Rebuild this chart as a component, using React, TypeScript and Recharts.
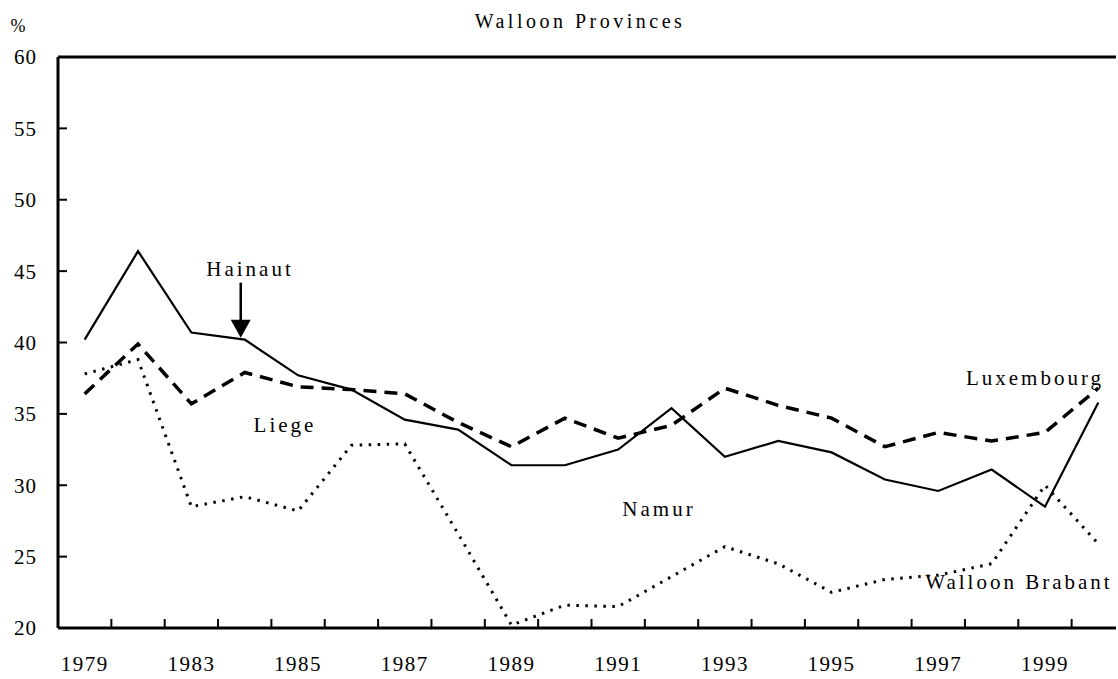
import { LineChart, Line, XAxis, YAxis, ReferenceLine, ReferenceDot } from "recharts";

const years = [
  "1979", "1982", "1983", "1984", "1985", "1986", "1987", "1988", "1989", "1990",
  "1991", "1992", "1993", "1994", "1995", "1996", "1997", "1998", "1999", "2000",
];
const tickYears = ["1979", "1983", "1985", "1987", "1989", "1991", "1993", "1995", "1997", "1999"];
const yTicks = [20, 25, 30, 35, 40, 45, 50, 55, 60];

const hainaut = [40.2, 46.4, 40.7, 40.2, 37.7, 36.7, 34.6, 33.9, 31.4, 31.4, 32.5, 35.4, 32.0, 33.1, 32.3, 30.4, 29.6, 31.1, 28.5, 35.8];
const luxembourg = [36.4, 39.9, 35.7, 37.9, 36.9, 36.7, 36.4, 34.4, 32.7, 34.7, 33.3, 34.2, 36.8, 35.6, 34.7, 32.7, 33.7, 33.1, 33.7, 36.8];
const walloonBrabant = [37.8, 38.8, 28.5, 29.2, 28.2, 32.8, 32.9, 26.6, 20.2, 21.6, 21.5, 23.6, 25.7, 24.5, 22.5, 23.4, 23.7, 24.5, 30.0, 25.9];

// each year sits in the middle of its slot, tick marks sit on the slot edges
const data = years.map((year, i) => ({
  year,
  x: i + 0.5,
  hainaut: hainaut[i],
  luxembourg: luxembourg[i],
  walloonBrabant: walloonBrabant[i],
}));
const labelTicks = tickYears.map((y) => years.indexOf(y) + 0.5);
const slotEdges = years.slice(1).map((_, i) => i + 1);
const xTicks = [...slotEdges, ...labelTicks].sort((a, b) => a - b);

const serif = "'Liberation Serif', 'Times New Roman', serif";
const X_MARGIN = 28;
const Y_MARGIN = 21;
const MARK = 9;

const labelStyle = {
  position: "absolute" as const,
  fontFamily: serif,
  fontSize: 21,
  letterSpacing: 3,
  lineHeight: 1,
  color: "#000",
  whiteSpace: "nowrap" as const,
  transform: "translate(-50%, -50%)",
};

function XTick(props: any) {
  const { x, y, payload } = props;
  const v = payload.value as number;
  if (Number.isInteger(v)) {
    const axisY = y - X_MARGIN;
    return <line x1={x} x2={x} y1={axisY - MARK} y2={axisY} stroke="#000" strokeWidth={2} />;
  }
  return (
    <text
      x={x}
      y={y}
      dy="0.71em"
      textAnchor="middle"
      fill="#000"
      fontSize={21}
      fontFamily={serif}
      letterSpacing={1.5}
    >
      {years[Math.floor(v)]}
    </text>
  );
}

function YTick(props: any) {
  const { x, y, payload } = props;
  const v = payload.value as number;
  const axisX = x + Y_MARGIN;
  return (
    <g>
      {v !== 20 && v !== 60 && (
        <line x1={axisX} x2={axisX + MARK} y1={y} y2={y} stroke="#000" strokeWidth={2} />
      )}
      <text
        x={x}
        y={y}
        dy="0.355em"
        textAnchor="end"
        fill="#000"
        fontSize={21}
        fontFamily={serif}
        letterSpacing={1}
      >
        {v}
      </text>
    </g>
  );
}

function HainautArrow(props: any) {
  const { cx, cy } = props;
  if (cx == null || cy == null) return null;
  return (
    <g>
      <line x1={cx - 4} y1={cy - 57} x2={cx - 4} y2={cy - 18} stroke="#000" strokeWidth={2.5} />
      <polygon
        points={`${cx - 14},${cy - 20} ${cx + 6},${cy - 20} ${cx - 4},${cy - 2}`}
        fill="#000"
      />
    </g>
  );
}

export default function App() {
  return (
    <div
      style={{
        position: "absolute",
        left: 0,
        top: 0,
        width: 1116,
        height: 679,
        overflow: "hidden",
        background: "#fff",
      }}
    >
      <LineChart
        width={1125}
        height={679}
        data={data}
        margin={{ top: 57, right: 0, bottom: 0, left: 0 }}
      >
        <XAxis
          dataKey="x"
          type="number"
          domain={[0, 20]}
          ticks={xTicks}
          interval={0}
          height={51}
          tickLine={false}
          tickSize={0}
          tickMargin={X_MARGIN}
          axisLine={{ stroke: "#000", strokeWidth: 3 }}
          tick={XTick}
        />
        <YAxis
          type="number"
          domain={[20, 60]}
          ticks={yTicks}
          interval={0}
          width={58}
          tickLine={false}
          tickSize={0}
          tickMargin={Y_MARGIN}
          axisLine={{ stroke: "#000", strokeWidth: 3 }}
          tick={YTick}
        />
        <ReferenceLine y={60} stroke="#000" strokeWidth={3} />
        <Line
          dataKey="walloonBrabant"
          stroke="#000"
          strokeWidth={3}
          strokeDasharray="2.5 6.5"
          dot={false}
          isAnimationActive={false}
        />
        <Line
          dataKey="luxembourg"
          stroke="#000"
          strokeWidth={3.5}
          strokeDasharray="13 8"
          dot={false}
          isAnimationActive={false}
        />
        <Line
          dataKey="hainaut"
          stroke="#000"
          strokeWidth={2.2}
          dot={false}
          isAnimationActive={false}
        />
        <ReferenceDot x={data[3].x} y={hainaut[3]} r={0} shape={HainautArrow} />
      </LineChart>

      <div style={{ ...labelStyle, left: 580, top: 21, fontSize: 20, letterSpacing: 3.5 }}>
        Walloon Provinces
      </div>
      <div style={{ ...labelStyle, left: 18, top: 26, fontSize: 18, letterSpacing: 0 }}>%</div>
      <div style={{ ...labelStyle, left: 250, top: 269 }}>Hainaut</div>
      <div style={{ ...labelStyle, left: 285, top: 425 }}>Liege</div>
      <div style={{ ...labelStyle, left: 1035, top: 378 }}>Luxembourg</div>
      <div style={{ ...labelStyle, left: 659, top: 509 }}>Namur</div>
      <div style={{ ...labelStyle, left: 1019, top: 582 }}>Walloon Brabant</div>
    </div>
  );
}
